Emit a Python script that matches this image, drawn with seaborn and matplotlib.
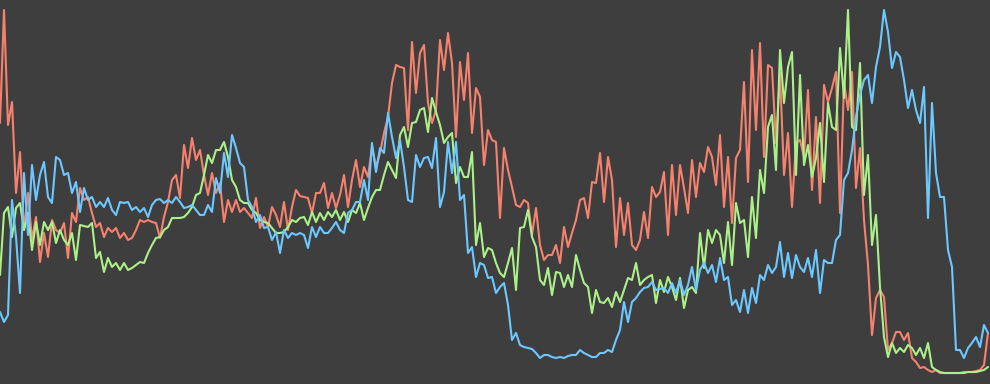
import numpy as np
import pandas as pd
import matplotlib
matplotlib.use("Agg")
import matplotlib.pyplot as plt
import seaborn as sns

red = [261,374,259,282,191,232,154,191,144,167,
       122,151,127,164,154,151,161,126,171,162,
       196,184,187,171,157,161,147,156,152,156,
       146,151,144,146,154,164,162,164,162,161,
       146,167,182,204,209,186,239,216,246,224,
       234,209,189,211,191,201,162,184,172,184,
       172,176,171,166,186,156,167,157,177,169,
       157,182,154,177,194,188,187,186,171,191,
       191,201,176,191,176,189,209,177,204,224,
       197,217,207,237,217,231,251,267,301,319,
       317,316,254,342,291,331,339,281,261,274,
       344,314,351,321,247,322,284,331,251,296,
       287,219,254,244,242,166,236,214,197,179,
       177,184,181,149,176,139,124,129,129,139,
       121,157,137,151,164,184,186,166,202,201,
       231,182,227,204,137,186,149,181,139,134,
       144,172,146,197,187,192,212,149,219,169,
       219,196,171,224,187,221,212,237,227,199,
       249,177,227,161,226,234,302,202,334,254,
       341,227,319,316,241,311,209,251,177,241,
       244,227,294,194,267,181,299,282,296,312,
       171,302,274,312,196,236,164,119,49,86,
       94,87,34,41,52,52,44,51,26,22,
       16,17,14,12,14,11,11,11,11,11,
       11,12,12,12,13,14,19,51]

green = [109,171,177,147,176,181,154,171,134,162,
         139,162,154,162,141,154,144,139,151,124,
         159,158,157,161,126,132,112,126,117,121,
         114,121,114,116,119,122,121,131,139,146,
         147,154,157,166,166,166,167,171,177,189,
         191,209,229,221,234,234,242,227,204,197,
         184,181,181,174,171,164,162,161,156,151,
         151,152,157,164,162,166,167,159,172,162,
         171,164,172,167,174,164,172,162,174,171,
         181,164,176,187,194,194,209,222,214,206,
         249,257,237,261,262,274,276,252,286,272,
         259,241,247,251,201,217,207,207,232,139,
         161,127,136,134,121,111,107,121,136,94,
         156,157,174,147,137,104,99,116,89,112,
         111,97,109,97,129,114,101,97,71,94,
         82,81,86,77,92,82,94,106,104,121,
         99,104,107,109,81,104,92,107,97,84,
         106,76,94,97,91,151,116,154,141,154,
         149,121,162,119,181,161,164,127,187,146,
         214,191,257,269,214,334,281,317,332,209,
         309,219,239,207,226,261,202,281,257,254,
         336,286,374,257,254,321,189,229,139,169,
         97,47,27,41,31,36,32,39,36,29,
         36,26,41,17,14,12,11,11,11,11,
         11,11,12,12,12,13,14,17]

blue = [72,62,69,184,147,91,211,149,219,184,
        209,222,187,181,227,224,209,211,191,202,
        172,196,184,187,177,182,177,186,174,169,
        182,181,182,174,177,172,176,167,179,184,
        185,181,184,181,187,182,176,177,179,174,
        169,169,179,172,206,191,231,207,249,236,
        221,217,184,177,162,169,156,157,144,152,
        131,154,146,151,149,151,149,136,157,147,
        157,151,151,156,162,154,151,171,174,182,
        182,204,184,241,212,236,231,271,247,226,
        244,217,184,182,229,217,226,227,216,246,
        177,192,242,211,242,184,189,131,137,107,
        121,119,106,107,91,97,101,79,44,51,
        39,37,36,35,31,26,29,29,27,26,
        27,26,28,29,29,34,31,29,27,27,
        31,31,34,32,44,54,82,62,82,86,
        92,96,97,102,94,95,96,91,101,91,
        104,89,99,117,94,114,121,111,119,102,
        126,104,107,79,84,72,94,71,96,81,
        109,104,119,111,117,142,107,131,106,129,
        117,112,126,107,134,91,124,121,121,144,
        149,204,211,234,267,289,304,309,281,317,
        337,374,352,316,332,327,304,276,294,274,
        261,297,166,281,211,187,187,134,117,34,
        34,26,36,41,47,37,59,51]

series_names = ["red", "green", "blue"]
colors = {"red": "#f5826e", "green": "#acf08a", "blue": "#6cc8ff"}

frames = []
for name, vals in zip(series_names, [red, green, blue]):
    frames.append(pd.DataFrame({"t": np.arange(len(vals)), "v": vals, "s": name}))
df = pd.concat(frames, ignore_index=True)

bg = "#3e3e3e"
sns.set_theme(style="dark", rc={"axes.facecolor": bg, "figure.facecolor": bg})
fig = plt.figure(figsize=(9.9, 3.84), dpi=100)
ax = fig.add_axes([0, 0, 1, 1])
ax.set_facecolor(bg)
sns.lineplot(data=df, x="t", y="v", hue="s", palette=colors, hue_order=series_names,
             estimator=None, linewidth=1.5, legend=False, ax=ax)
n = len(red)
ax.set_xlim(0, n - 0.5)
ax.set_ylim(0, 384)
ax.axis("off")
fig.savefig("out.png", dpi=100, facecolor=bg)
